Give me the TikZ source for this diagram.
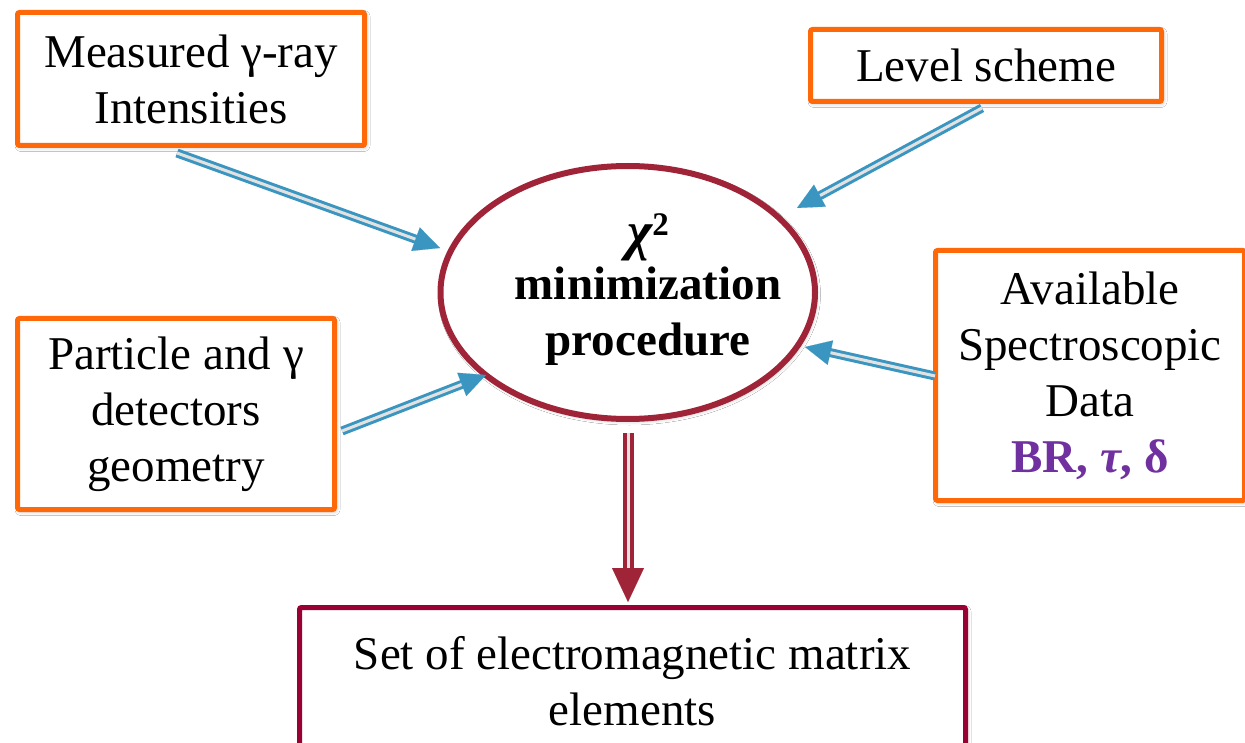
\documentclass[tikz,border=0pt]{standalone}
\usepackage{fontspec}
\setmainfont{Liberation Serif}
\usetikzlibrary{arrows.meta,shapes.geometric,shadows.blur}

\definecolor{boxorange}{RGB}{255,104,8}
\definecolor{resultred}{RGB}{153,0,51}
\definecolor{procred}{RGB}{160,36,56}
\definecolor{arrowblue}{RGB}{58,150,192}
\definecolor{shaftgap}{RGB}{226,226,226}
\definecolor{datapurple}{RGB}{112,48,160}

% double-lined connector: shaft first, then a solid triangular head on top
\newcommand\dblconn[3]{%
  \draw[#1shaft] #2 -- #3;
  \draw[#1head] #2 -- #3;}

\begin{document}
\begin{tikzpicture}[x=1pt,y=-1pt,
  softshadow/.style={blur shadow={shadow xshift=1.5pt,shadow yshift=-2pt,
      shadow blur radius=4pt,shadow opacity=28}},
  inbox/.style={draw=boxorange,line width=5pt,fill=white,rounded corners=2pt,
      align=center,inner sep=0pt,softshadow},
  outbox/.style={draw=resultred,line width=5pt,fill=white,rounded corners=2pt,
      align=center,inner sep=0pt,softshadow},
  procshape/.style={ellipse,draw=procred,line width=6pt,fill=white,inner sep=0pt,softshadow},
  blueshaft/.style={draw=arrowblue,line width=3pt,double=shaftgap,double distance=3pt,
      shorten >=20pt},
  bluehead/.style={draw=shaftgap,line width=0.1pt,
      -{Triangle[length=26pt,width=25pt,color=arrowblue,fill=arrowblue]}},
  redshaft/.style={draw=procred,line width=4pt,double=shaftgap,double distance=3pt,
      shorten >=28pt},
  redhead/.style={draw=shaftgap,line width=0.1pt,
      -{Triangle[length=34pt,width=32pt,color=procred,fill=procred]}},
  every node/.style={font=\fontsize{47}{56}\selectfont}
]
\useasboundingbox (0,0) rectangle (1245,743);
\fill[white] (0,0) rectangle (1245,743);

% input boxes
\node[inbox,minimum width=347pt,minimum height=133pt] (meas) at (191,79)
  {Measured γ-ray\\Intensities};
\node[inbox,minimum width=351pt,minimum height=72pt] (level) at (986,65.5)
  {Level scheme};
\node[inbox,minimum width=317pt,minimum height=191pt] (geom) at (176,414)
  {Particle and γ\\detectors\\geometry};
\node[inbox,minimum width=309pt,minimum height=250pt] (spec) at (1090,375.5)
  {Available\\Spectroscopic\\Data\\{\bfseries\color{datapurple}BR, \textit{τ}, δ}};

% central procedure
\node[procshape,minimum width=374.5pt,minimum height=253pt] (proc) at (627.75,292.5) {};
\node[align=center,inner sep=0pt,font=\fontsize{47}{56}\selectfont\bfseries] (proctext) at (648,290)
  {{\fontsize{54}{56}\selectfont\itshape χ}\raisebox{14pt}{\fontsize{33}{33}\selectfont 2}\\[-6pt]
   minimization\\procedure};

% result box
\node[outbox,minimum width=666pt,minimum height=147.5pt] (result) at (632.5,681.25)
  {Set of electromagnetic matrix\\elements};

% connector end points
\coordinate (measout) at (177,153);
\coordinate (procin1) at (440,248);
\coordinate (levelout) at (982,108);
\coordinate (procin2) at (797,208);
\coordinate (geomout) at (342,431);
\coordinate (procin3) at (486,375);
\coordinate (specout) at (935,376);
\coordinate (procin4) at (805,347);
\coordinate (procout) at (628,433);
\coordinate (resultin) at (628,602);

\dblconn{blue}{(measout)}{(procin1)}
\dblconn{blue}{(levelout)}{(procin2)}
\dblconn{blue}{(geomout)}{(procin3)}
\dblconn{blue}{(specout)}{(procin4)}
\dblconn{red}{(procout)}{(resultin)}
\end{tikzpicture}
\end{document}
